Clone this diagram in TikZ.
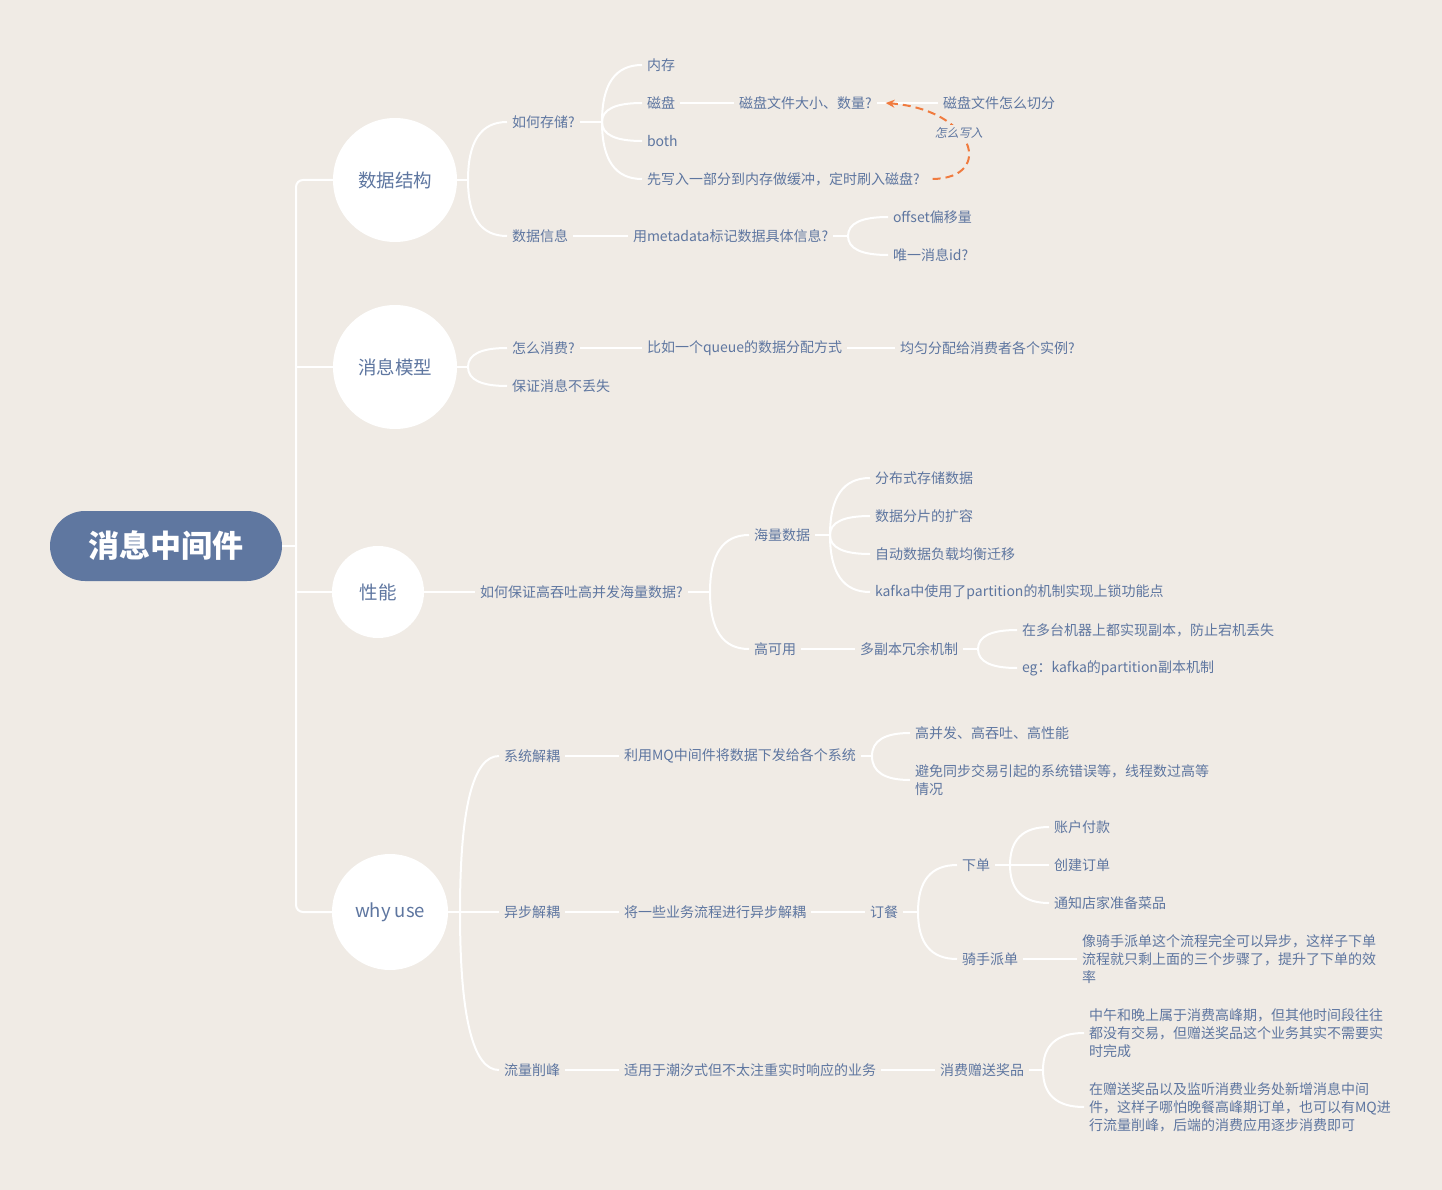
\documentclass[tikz,border=0pt]{standalone}
\usepackage{fontspec}
\setmainfont{Noto Sans CJK SC}
\newfontfamily\slantfont[FakeSlant=0.2]{Noto Sans CJK SC}
\usetikzlibrary{calc,arrows.meta}
\definecolor{bg}{HTML}{F0EBE5}
\definecolor{tc}{HTML}{5E76A0}
\definecolor{rootc}{HTML}{5F77A0}
\definecolor{arrc}{HTML}{F07B3F}
\newcommand\brch[2]{\draw[conn] (#1) .. controls ($(#1)!0.667!(#1 |- #2.west)$) and ($(#2.west)!0.667!(#1 |- #2.west)$) .. (#2.west);}
\begin{document}
\begin{tikzpicture}[x=1pt,y=-1pt,
  conn/.style={draw=white,line width=2pt},
  txt/.style={anchor=west,inner sep=0pt,outer xsep=5pt,outer ysep=0pt,text=tc,align=left,font=\fontsize{14}{18}\selectfont},
  circ/.style={circle,fill=white,inner sep=0pt,text=tc,font=\fontsize{18.5}{20}\selectfont}]
\fill[bg] (0,0) rectangle (1442,1190);
% root and main topics
\node[fill=rootc,rounded corners=35pt,minimum width=232pt,minimum height=70pt,text=white,font=\fontsize{31}{31}\selectfont\bfseries] (root) at (166,546) {消息中间件};
\node[circ,minimum size=124pt] (c1) at (395,180) {数据结构};
\node[circ,minimum size=124pt] (c2) at (395,367) {消息模型};
\node[circ,minimum size=92pt] (c3) at (378,592) {性能};
\node[circ,minimum size=116pt] (c4) at (390,912) {why use};
\coordinate (T) at (296,546);
\draw[conn,rounded corners=7pt] (c1.west) -| (T) |- (c4.west);
\draw[conn] (root.east) -- (T);
\draw[conn] (c2.west) -- (c2.west -| T);
\draw[conn] (c3.west) -- (c3.west -| T);
% branch points
\coordinate (B1) at (468,180);
\coordinate (B2) at (602,122);
\coordinate (B3) at (848,236);
\coordinate (B4) at (468,367);
\coordinate (B5) at (710,592);
\coordinate (B6) at (830,535);
\coordinate (B7) at (978,649);
\coordinate (B8) at (460,912);
\coordinate (B9) at (872,756);
\coordinate (B10) at (918,912);
\coordinate (B11) at (1010,865);
\coordinate (B12) at (1043,1070);
% 数据结构
\node[txt] (a1) at (507,122) {如何存储?};
\node[txt] (a2) at (507,236) {数据信息};
\node[txt] (a11) at (642,65) {内存};
\node[txt] (a12) at (642,103) {磁盘};
\node[txt] (a13) at (642,141) {both};
\node[txt] (a14) at (642,179) {先写入一部分到内存做缓冲，定时刷入磁盘?};
\node[txt] (a121) at (734,103) {磁盘文件大小、数量?};
\node[txt] (a122) at (938,103) {磁盘文件怎么切分};
\node[txt] (a21) at (628,236) {用metadata标记数据具体信息?};
\node[txt] (a211) at (888,217) {offset偏移量};
\node[txt] (a212) at (888,255) {唯一消息id?};
% 消息模型
\node[txt] (b1) at (507,348) {怎么消费?};
\node[txt] (b2) at (507,386) {保证消息不丢失};
\node[txt] (b11) at (642,348) {比如一个queue的数据分配方式};
\node[txt] (b12) at (895,348) {均匀分配给消费者各个实例?};
% 性能
\node[txt] (p1) at (475,592) {如何保证高吞吐高并发海量数据?};
\node[txt] (p11) at (749,535) {海量数据};
\node[txt] (p12) at (749,649) {高可用};
\node[txt] (p111) at (870,478) {分布式存储数据};
\node[txt] (p112) at (870,516) {数据分片的扩容};
\node[txt] (p113) at (870,554) {自动数据负载均衡迁移};
\node[txt] (p114) at (870,592) {kafka中使用了partition的机制实现上锁功能点};
\node[txt] (p121) at (855,649) {多副本冗余机制};
\node[txt] (p1211) at (1017,630) {在多台机器上都实现副本，防止宕机丢失};
\node[txt] (p1212) at (1017,668) {eg：kafka的partition副本机制};
% why use
\node[txt] (w1) at (499,756) {系统解耦};
\node[txt] (w2) at (499,912) {异步解耦};
\node[txt] (w3) at (499,1070) {流量削峰};
\node[txt] (w11) at (619,756) {利用MQ中间件将数据下发给各个系统};
\node[txt] (w111) at (910,733) {高并发、高吞吐、高性能};
\node[txt] (w112) at (910,780) {避免同步交易引起的系统错误等，线程数过高等\\情况};
\node[txt] (w21) at (619,912) {将一些业务流程进行异步解耦};
\node[txt] (w211) at (865,912) {订餐};
\node[txt] (w2111) at (957,865) {下单};
\node[txt] (w2112) at (957,959) {骑手派单};
\node[txt] (w21111) at (1049,827) {账户付款};
\node[txt] (w21112) at (1049,865) {创建订单};
\node[txt] (w21113) at (1049,903) {通知店家准备菜品};
\node[txt] (w21121) at (1077,959) {像骑手派单这个流程完全可以异步，这样子下单\\流程就只剩上面的三个步骤了，提升了下单的效\\率};
\node[txt] (w31) at (619,1070) {适用于潮汐式但不太注重实时响应的业务};
\node[txt] (w311) at (935,1070) {消费赠送奖品};
\node[txt] (w3111) at (1084,1033) {中午和晚上属于消费高峰期，但其他时间段往往\\都没有交易，但赠送奖品这个业务其实不需要实\\时完成};
\node[txt] (w3112) at (1084,1107) {在赠送奖品以及监听消费业务处新增消息中间\\件，这样子哪怕晚餐高峰期订单，也可以有MQ进\\行流量削峰，后端的消费应用逐步消费即可};
% stubs
\draw[conn] (c1.east) -- (B1);
\draw[conn] (a1.east) -- (B2);
\draw[conn] (a21.east) -- (B3);
\draw[conn] (c2.east) -- (B4);
\draw[conn] (p1.east) -- (B5);
\draw[conn] (p11.east) -- (B6);
\draw[conn] (p121.east) -- (B7);
\draw[conn] (c4.east) -- (B8);
\draw[conn] (w11.east) -- (B9);
\draw[conn] (w211.east) -- (B10);
\draw[conn] (w2111.east) -- (B11);
\draw[conn] (w311.east) -- (B12);
% branches
\brch{B1}{a1}\brch{B1}{a2}
\brch{B2}{a11}\brch{B2}{a12}\brch{B2}{a13}\brch{B2}{a14}
\brch{B3}{a211}\brch{B3}{a212}
\brch{B4}{b1}\brch{B4}{b2}
\brch{B5}{p11}\brch{B5}{p12}
\brch{B6}{p111}\brch{B6}{p112}\brch{B6}{p113}\brch{B6}{p114}
\brch{B7}{p1211}\brch{B7}{p1212}
\brch{B8}{w1}\brch{B8}{w2}\brch{B8}{w3}
\brch{B9}{w111}\brch{B9}{w112}
\brch{B10}{w2111}\brch{B10}{w2112}
\brch{B11}{w21111}\brch{B11}{w21112}\brch{B11}{w21113}
\brch{B12}{w3111}\brch{B12}{w3112}
% straight links
\draw[conn] (a12.east) -- (a121.west);
\draw[conn] (a121.east) -- (a122.west);
\draw[conn] (a2.east) -- (a21.west);
\draw[conn] (b1.east) -- (b11.west);
\draw[conn] (b11.east) -- (b12.west);
\draw[conn] (c3.east) -- (p1.west);
\draw[conn] (p12.east) -- (p121.west);
\draw[conn] (w1.east) -- (w11.west);
\draw[conn] (w2.east) -- (w21.west);
\draw[conn] (w21.east) -- (w211.west);
\draw[conn] (w2112.east) -- (w21121.west);
\draw[conn] (w3.east) -- (w31.west);
\draw[conn] (w31.east) -- (w311.west);
% relationship arrow
\draw[arrc,line width=2pt,dash pattern=on 8pt off 5pt,-{Stealth[length=9pt,width=8pt]}]
  ([xshift=8pt]a14.east) .. controls (995,178) and (975,110) .. ([xshift=9pt]a121.east)
  node[pos=0.6,fill=bg,inner sep=2pt,text=tc,font=\slantfont\fontsize{12}{12}\selectfont] (lbl) {怎么写入};
\end{tikzpicture}
\end{document}
